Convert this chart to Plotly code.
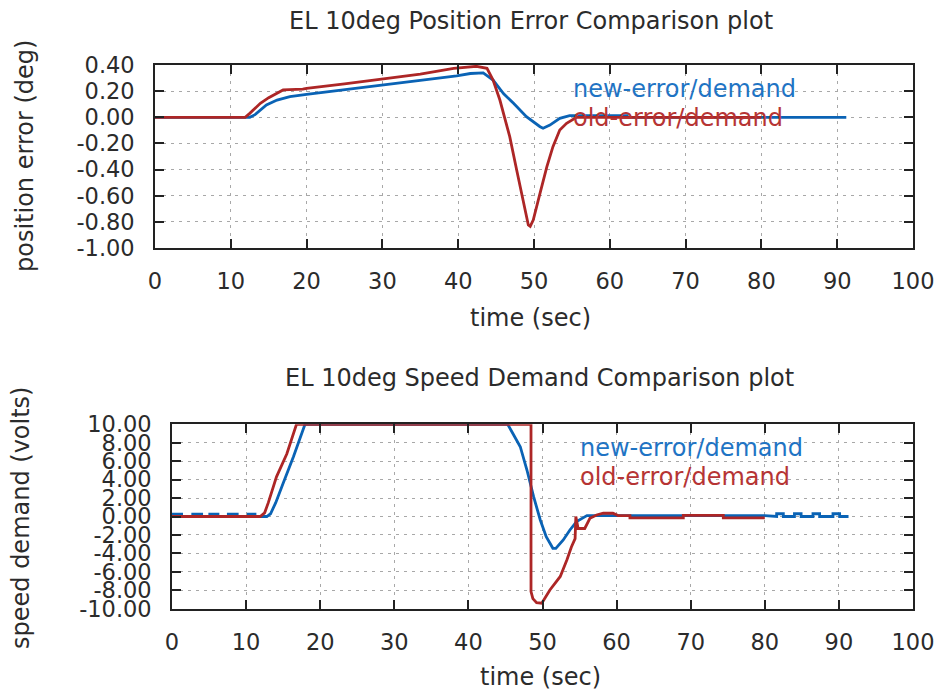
import plotly.graph_objects as go

# ---- data: position error (deg) ----
pos_new_t = [0, 12.5, 13.2, 14.0, 14.7, 16.1, 17.8, 20.0, 25.0, 29.7, 35.0, 39.8, 41.6, 43.3,
             44.6, 46.0, 47.3, 49.0, 50.8, 51.2, 52.1, 53.4, 54.7, 62.3, 62.3, 91.2]
pos_new_v = [0, 0, 0.02, 0.06, 0.094, 0.132, 0.158, 0.176, 0.21, 0.247, 0.283, 0.316, 0.335, 0.34,
             0.285, 0.18, 0.107, 0.005, -0.072, -0.084, -0.06, -0.008, 0.012, 0.012, 0.0, 0.0]

pos_old_t = [0, 11.9, 12.5, 13.0, 13.9, 15.0, 16.9, 19.5, 20.0, 25.0, 29.7, 35.0, 39.4, 41.0,
             42.4, 43.8, 44.6, 45.5, 46.8, 47.7, 48.6, 49.25, 49.5, 49.9, 50.8, 51.7, 52.5,
             53.4, 54.3, 55.6, 80.0]
pos_old_v = [0, 0, 0.03, 0.056, 0.107, 0.15, 0.209, 0.215, 0.222, 0.255, 0.29, 0.33, 0.375, 0.383,
             0.39, 0.375, 0.285, 0.132, -0.148, -0.40, -0.658, -0.824, -0.835, -0.786, -0.58,
             -0.378, -0.225, -0.097, -0.046, 0.0, 0.0]

# ---- data: speed demand (volts) ----
spd_new_t = [0, 1.3, 1.3, 2.8, 2.8, 4.0, 4.0, 5.1, 5.1, 6.2, 6.2, 7.6, 7.6, 8.8, 8.8, 10.3, 10.3,
             11.2, 11.2, 12.8, 13.3, 14.0, 15.0, 16.4, 17.95, 45.3, 46.0, 47.0, 47.9, 48.8, 49.7,
             50.5, 51.4, 51.8, 52.8, 53.7, 54.6, 56.0, 80.0, 81.6, 81.6, 82.5, 82.5, 84.0, 84.0,
             84.9, 84.9, 86.5, 86.5, 87.4, 87.4, 89.2, 89.2, 90.1, 90.1, 91.3]
spd_new_v = [0.25, 0.25, 0, 0, 0.25, 0.25, 0, 0, 0.25, 0.25, 0, 0, 0.25, 0.25, 0, 0, 0.25,
             0.25, 0, 0, 0.3, 1.5, 3.6, 6.5, 10, 10, 9.0, 7.57, 5.04, 2.15, -0.38,
             -2.19, -3.45, -3.45, -2.55, -1.46, -0.56, 0.1, 0.1, 0.0, 0.3, 0.3, 0.0, 0.0, 0.3,
             0.3, 0.0, 0.0, 0.3, 0.3, 0.0, 0.0, 0.3, 0.3, 0.0, 0.0]

spd_old_t = [0, 11.9, 12.5, 13.0, 14.1, 15.5, 16.8, 48.45, 48.45, 48.7, 49.2, 49.9, 51.0, 52.4,
             53.3, 53.9, 54.4, 54.5, 54.8, 55.7, 56.4, 57.3, 58.2, 59.5, 60.2, 61.8, 61.8, 69.0,
             69.0, 74.4, 74.4, 80.0]
spd_old_v = [0, 0, 0.4, 1.5, 4.3, 6.8, 10, 10, -8.15, -8.9, -9.35, -9.4, -7.97, -6.5,
             -4.7, -3.3, -2.4, 0.0, -1.3, -1.3, -0.2, 0.16, 0.35, 0.35, 0.1, 0.1, -0.15, -0.15,
             0.12, 0.12, -0.15, -0.15]

# ---- tick labels ----
x_ticks = [0, 10, 20, 30, 40, 50, 60, 70, 80, 90, 100]
pos_ticks = [0.4, 0.2, 0.0, -0.2, -0.4, -0.6, -0.8, -1.0]
pos_tick_text = ["0.40", "0.20", "0.00", "-0.20", "-0.40", "-0.60", "-0.80", "-1.00"]
spd_ticks = [10, 8, 6, 4, 2, 0, -2, -4, -6, -8, -10]
spd_tick_text = ["10.00", "8.00", "6.00", "4.00", "2.00", "0.00", "-2.00", "-4.00",
                 "-6.00", "-8.00", "-10.00"]

NEW_COLOR = "#0a63b5"
OLD_COLOR = "#ad2626"
FONT = "DejaVu Sans"
W, H = 939, 692


def px(x):
    return x / W


def py(y):
    return 1 - y / H


fig = go.Figure()
fig.add_trace(go.Scatter(x=pos_new_t, y=pos_new_v, mode="lines", xaxis="x", yaxis="y",
                         line=dict(color=NEW_COLOR, width=2.8), showlegend=False))
fig.add_trace(go.Scatter(x=pos_old_t, y=pos_old_v, mode="lines", xaxis="x", yaxis="y",
                         line=dict(color=OLD_COLOR, width=2.8), showlegend=False))
fig.add_trace(go.Scatter(x=spd_new_t, y=spd_new_v, mode="lines", xaxis="x2", yaxis="y2",
                         line=dict(color=NEW_COLOR, width=2.8), showlegend=False))
fig.add_trace(go.Scatter(x=spd_old_t, y=spd_old_v, mode="lines", xaxis="x2", yaxis="y2",
                         line=dict(color=OLD_COLOR, width=2.8), showlegend=False))

axis_common = dict(
    automargin=False,
    showline=True, linecolor="#222222", linewidth=1.6, mirror="ticks",
    ticks="inside", ticklen=9, tickwidth=1.5, tickcolor="#222222",
    showgrid=True, gridcolor="#a8a8a8", gridwidth=1, griddash="3px,5px",
    zeroline=False, tickfont=dict(family=FONT, size=22.5, color="#2b2b2b"),
)

fig.update_layout(
    width=W, height=H,
    margin=dict(l=0, r=0, t=0, b=0, pad=0, autoexpand=False),
    paper_bgcolor="white", plot_bgcolor="white",
    showlegend=False,
    xaxis=dict(domain=[px(155), px(913)], anchor="y", range=[0, 100],
               tickvals=x_ticks, ticklabelstandoff=12, **axis_common),
    yaxis=dict(domain=[py(248), py(65)], anchor="x", range=[-1.0, 0.4],
               tickvals=pos_ticks, ticktext=pos_tick_text, ticklabelstandoff=14,
               **axis_common),
    xaxis2=dict(domain=[px(172), px(913)], anchor="y2", range=[0, 100],
                tickvals=x_ticks, ticklabelstandoff=12, **axis_common),
    yaxis2=dict(domain=[py(608.7), py(424.3)], anchor="x2", range=[-10, 10],
                tickvals=spd_ticks, ticktext=spd_tick_text, ticklabelstandoff=14,
                **axis_common),
)

text_font = dict(family=FONT, size=24, color="#2b2b2b")


def note(text, x, y, color=None, angle=0, xanchor="center", size=24):
    f = dict(text_font)
    f["size"] = size
    if color:
        f["color"] = color
    fig.add_annotation(text=text, x=px(x), y=py(y), xref="paper", yref="paper",
                       showarrow=False, xanchor=xanchor, yanchor="middle",
                       textangle=angle, font=f)


# titles
note("EL 10deg Position Error Comparison plot", 531, 21)
note("EL 10deg Speed Demand Comparison plot", 539, 378)
# axis titles
note("time (sec)", 530, 318)
note("time (sec)", 540, 677)
note("position error (deg)", 25, 156, angle=-90)
note("speed demand (volts)", 21, 518, angle=-90)
# series labels
note("new-error/demand", 571, 89, color="#1f74c4", xanchor="left")
note("old-error/demand", 571, 118, color="#b63434", xanchor="left")
note("new-error/demand", 578, 448, color="#1f74c4", xanchor="left")
note("old-error/demand", 578, 477, color="#b63434", xanchor="left")

fig.write_html("out.html")
